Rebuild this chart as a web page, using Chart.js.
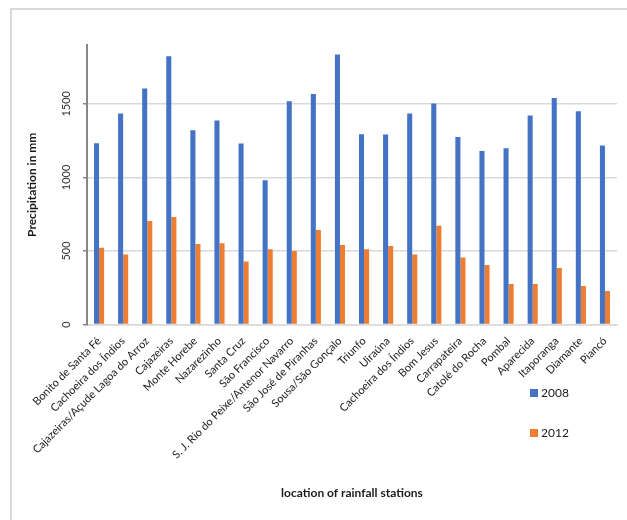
<!DOCTYPE html>
<html>
<head>
<meta charset="utf-8">
<script src="https://cdn.jsdelivr.net/npm/chart.js@4.4.1/dist/chart.umd.min.js"></script>
<style>
  html, body { margin: 0; padding: 0; background: #fff; }
  #wrap { position: relative; width: 627px; height: 520px; }
  #frame { position: absolute; left: 10px; top: 8px; width: 617px; height: 512px;
           border-top: 2px solid #d9d9d9; border-left: 2px solid #d9d9d9; box-sizing: border-box; }
  #legend { position: absolute; left: 530px; top: 383px; font: 12px Lato, sans-serif; color: #1a1a1a; }
  #legend div { height: 20px; line-height: 20px; margin-bottom: 20px; white-space: nowrap; }
  #legend span { display: inline-block; width: 8px; height: 8px; margin-right: 3px; }
</style>
</head>
<body>
<div id="wrap">
  <canvas id="rain--chart" width="627" height="520"></canvas>
  <div id="frame"></div>
  <div id="legend"></div>
</div>
<script>
'use strict'

const stations = [
    "Bonito de Santa Fé", "Cachoeira dos Índios", "Cajazeiras/Açude Lagoa do Arroz", "Cajazeiras",
    "Monte Horebe", "Nazarezinho", "Santa Cruz", "São Francisco",
    "S. J. Rio do Peixe/Antenor Navarro", "São José de Piranhas", "Sousa/São Gonçalo", "Triunfo",
    "Uiraúna", "Cachoeira dos Índios", "Bom Jesus", "Carrapateira", "Catolé do Rocha",
    "Pombal", "Aparecida", "Itaporanga", "Diamante", "Piancó"
];
const rain2008 = [1232, 1434, 1604, 1823, 1321, 1387, 1230, 981, 1517, 1567, 1835, 1293,
                  1291, 1434, 1502, 1275, 1180, 1198, 1420, 1540, 1450, 1217];
const rain2012 = [521, 476, 703, 730, 547, 553, 429, 512, 499, 642, 540, 512,
                  533, 476, 671, 456, 404, 275, 275, 384, 261, 227];
const yTicks = [0, 500, 1000, 1500];

const series = [
    { label: "2008", data: rain2008, color: "#4472C4" },
    { label: "2012", data: rain2012, color: "#ED7D31" }
];

const bar_chart = {
    type: 'bar',
    data: {
        labels: stations,
        datasets: series.map(s => ({
            label: s.label,
            data: s.data,
            backgroundColor: s.color,
            categoryPercentage: 0.42,
            barPercentage: 1.0
        }))
    },
    options: {
        responsive: false,
        animation: false,
        layout: { padding: { left: 11, right: 10, top: 45, bottom: 10 } },
        plugins: {
            legend: { display: false },
            tooltip: { enabled: false }
        },
        scales: {
            x: {
                afterFit: scale => { scale.height = 185.5; },
                grid: { display: false },
                border: { color: '#d9d9d9', width: 1.5 },
                ticks: {
                    autoSkip: false, minRotation: 45, maxRotation: 45, padding: 2,
                    color: '#1a1a1a', font: { family: 'Lato', size: 11 }
                },
                title: {
                    display: true, text: 'location of rainfall stations',
                    color: '#1a1a1a', font: { family: 'Lato', size: 12, weight: 'bold' },
                    padding: { top: 0, bottom: 10 }
                }
            },
            y: {
                min: 0, max: 1900,
                afterFit: scale => { scale.width = 76; },
                afterBuildTicks: scale => { scale.ticks = yTicks.map(v => ({ value: v })); },
                grid: { color: '#d9d9d9', lineWidth: 1.5, tickLength: 4, tickColor: '#868686', drawTicks: true },
                border: { color: '#868686', width: 2 },
                ticks: {
                    minRotation: 90, maxRotation: 90, crossAlign: 'center', padding: 4,
                    callback: v => String(v),
                    color: '#333333', font: { family: 'Lato', size: 11 }
                },
                title: {
                    display: true, text: 'Precipitation in mm',
                    color: '#1a1a1a', font: { family: 'Lato', size: 12, weight: 'bold' },
                    padding: { top: 14, bottom: 0 }
                }
            }
        }
    }
}

document.addEventListener('DOMContentLoaded', function() {
    new Chart(document.getElementById('rain--chart').getContext('2d'), bar_chart)
    const legend = document.getElementById('legend')
    series.forEach(s => {
        const row = document.createElement('div')
        row.innerHTML = '<span style="background:' + s.color + '"></span>' + s.label
        legend.appendChild(row)
    })
});
</script>
</body>
</html>
